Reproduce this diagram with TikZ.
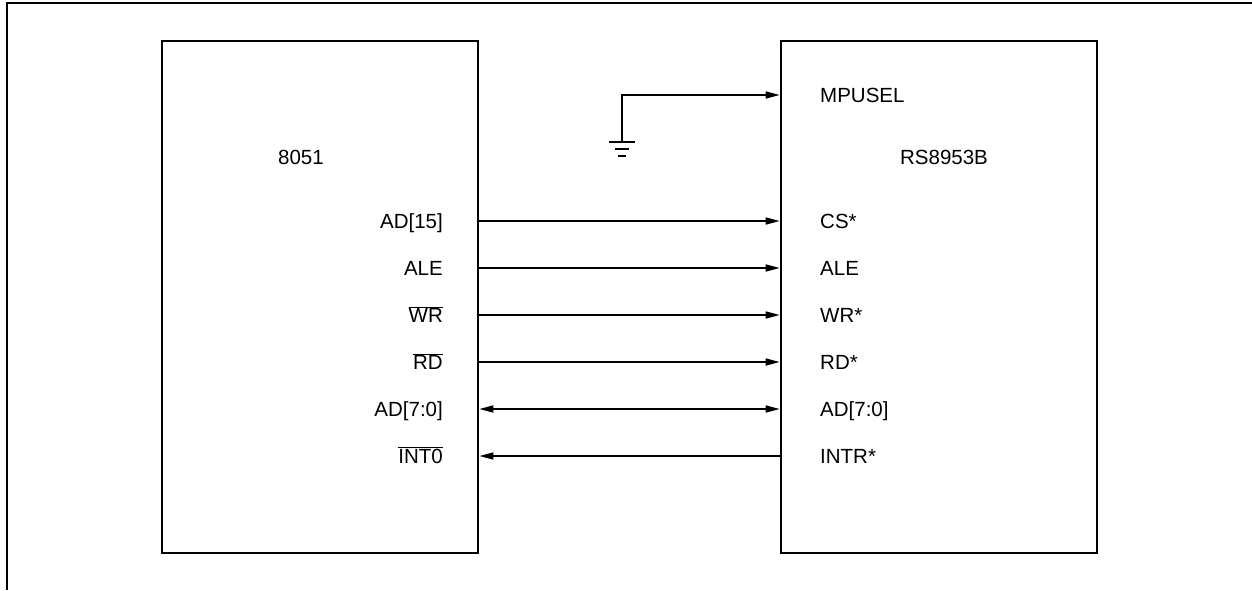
\documentclass[tikz,border=0pt]{standalone}
\usepackage{fontspec}
\setmainfont{Liberation Sans}
\usetikzlibrary{arrows.meta}
\begin{document}
\begin{tikzpicture}[x=1pt,y=-1pt,
  chip/.style={draw,line width=2.6pt,minimum width=316pt,minimum height=512pt,inner sep=0pt},
  lbl/.style={font=\fontsize{20.5}{24}\selectfont,inner sep=0pt,text height=14.7pt,text depth=0pt},
  tip/.tip={Triangle[length=14pt,width=7pt]},
  sig/.style={line width=1.6pt,-tip},
  bsig/.style={line width=1.6pt,tip-tip},
  gnd/.style={line width=1.6pt}]
\useasboundingbox (0,0) rectangle (1252,590);
% outer frame
\draw[line width=2pt] (1252,3) -- (7,3) -- (7,590);
% chips
\node[chip] (L) at (320,297) {};
\node[chip] (R) at (939,297) {};
\node[lbl] (n8051) at (301,157) {8051};
\node[lbl] (nRS) at (944,157) {RS8953B};
% right labels
\node[lbl,anchor=west] (rMP) at (820,95) {MPUSEL};
\node[lbl,anchor=west] (rCS) at (820,221) {CS*};
\node[lbl,anchor=west] (rALE) at (820,268) {ALE};
\node[lbl,anchor=west] (rWR) at (820,315) {WR*};
\node[lbl,anchor=west] (rRD) at (820,362) {RD*};
\node[lbl,anchor=west] (rAD) at (820,409) {AD[7:0]};
\node[lbl,anchor=west] (rINT) at (820,456) {INTR*};
% left labels
\node[lbl,anchor=east] (lAD15) at (443,221) {AD[15]};
\node[lbl,anchor=east] (lALE) at (443,268) {ALE};
\node[lbl,anchor=east] (lWR) at (443,315) {$\overline{\mbox{WR}}$};
\node[lbl,anchor=east] (lRD) at (443,362) {$\overline{\mbox{RD}}$};
\node[lbl,anchor=east] (lAD) at (443,409) {AD[7:0]};
\node[lbl,anchor=east] (lINT) at (443,456) {$\overline{\mbox{INT0}}$};
% connectors
\draw[sig] (L.east |- rCS) -- (R.west |- rCS);
\draw[sig] (L.east |- rALE) -- (R.west |- rALE);
\draw[sig] (L.east |- rWR) -- (R.west |- rWR);
\draw[sig] (L.east |- rRD) -- (R.west |- rRD);
\draw[bsig] (L.east |- rAD) -- (R.west |- rAD);
\draw[sig] (R.west |- rINT) -- (L.east |- rINT);
% ground
\coordinate (g) at (622,142);
\draw[sig] (g) -- (622,95) -- (R.west |- rMP);
\draw[gnd] (609,142) -- (635,142);
\draw[gnd] (615,149) -- (629,149);
\draw[gnd] (618,156) -- (626,156);
\end{tikzpicture}
\end{document}
